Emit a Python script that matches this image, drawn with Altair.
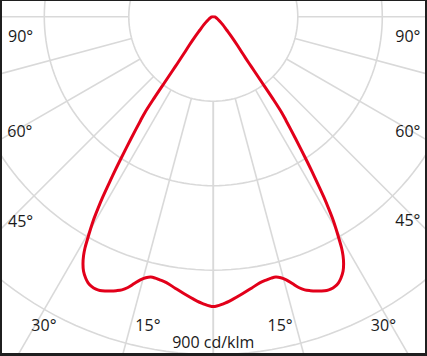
import altair as alt
import numpy as np
import pandas as pd

# Luminous intensity (cd/klm) vs. gamma angle (deg), symmetric C0/C180 plane
gamma_deg = [0, 2, 4, 6, 8, 10, 11.5, 12.5, 13.5, 14.5, 15.5, 16.5, 17.5, 18.5,
             19.5, 20.5, 21.5, 22.5, 23.3, 24.3, 25.2, 26, 27, 27.8, 28.5, 29,
             29.5, 30, 30.5, 31, 31.5, 32, 32.5, 33, 33.5, 34, 34.5, 35, 35.5,
             36, 36.5, 37, 37.5, 38.5, 40, 42.5, 45, 50, 55, 62, 70, 80, 90]
intensity = [772, 765, 754, 742, 730, 719, 715, 713, 713, 718, 727, 741, 756,
             767, 774, 780, 785, 789, 790, 788, 783, 775, 761, 744, 724, 705,
             680, 655, 629, 597, 563, 525, 490, 455, 422, 392, 364, 338, 314,
             268, 218, 182, 157, 127, 101, 71, 51, 32, 21, 13, 8, 4, 0]

ring_values = [225, 450, 675, 900]
spoke_angles = [0, 15, 30, 45, 60, 75, 90]
spoke_outer = 1400

label_texts = ["90°", "90°", "60°", "60°", "45°", "45°", "30°", "30°", "15°", "15°", "900 cd/klm"]
label_x = [-513, 518, -515, 518, -513, 518, -451, 453, -174, 178, 0]
label_y = [-67, -67, -320, -320, -560, -556, -837, -837, -837, -837, -882]

# ---- build tables ----
rows = []
o = 0
for g, i in zip(reversed(gamma_deg), reversed(intensity)):
    rows.append({"g": g, "I": i, "side": -1, "o": o}); o += 1
for g, i in zip(gamma_deg[1:], intensity[1:]):
    rows.append({"g": g, "I": i, "side": 1, "o": o}); o += 1
curve = pd.DataFrame(rows)

ring_rows = []
phis = np.arange(0, 361, 2)
for r in ring_values:
    for k, p in enumerate(phis):
        ring_rows.append({"ring": r, "k": k,
                          "x": r * np.sin(np.radians(p)),
                          "y": r * np.cos(np.radians(p))})
rings = pd.DataFrame(ring_rows)

spoke_rows = []
for a in spoke_angles:
    for s in (-1, 1):
        for k, r in enumerate((ring_values[0], spoke_outer)):
            spoke_rows.append({"id": f"{a}_{s}", "k": k,
                               "x": s * r * np.sin(np.radians(a)),
                               "y": -r * np.cos(np.radians(a))})
spokes = pd.DataFrame(spoke_rows)

labels = pd.DataFrame({"t": label_texts, "x": label_x, "y": label_y})

xs = alt.Scale(domain=[-562.6, 563.7], nice=False, zero=False)
ys = alt.Scale(domain=[-895.5, 41.8], nice=False, zero=False)
GRID = "#d9d9d9"

ring_layer = alt.Chart(rings).mark_line(color=GRID, strokeWidth=1.6, clip=True).encode(
    x=alt.X("x:Q", scale=xs, axis=None),
    y=alt.Y("y:Q", scale=ys, axis=None),
    detail="ring:N", order="k:Q")

spoke_layer = alt.Chart(spokes).mark_line(color=GRID, strokeWidth=1.6, clip=True).encode(
    x=alt.X("x:Q", scale=xs, axis=None),
    y=alt.Y("y:Q", scale=ys, axis=None),
    detail="id:N", order="k:Q")

curve_layer = alt.Chart(curve).transform_calculate(
    x="datum.side * datum.I * sin(datum.g * PI / 180)",
    y="-datum.I * cos(datum.g * PI / 180)",
).mark_line(color="#e2001a", strokeWidth=3, interpolate="catmull-rom",
            strokeJoin="round", clip=True).encode(
    x=alt.X("x:Q", scale=xs, axis=None),
    y=alt.Y("y:Q", scale=ys, axis=None),
    order="o:Q")

label_layer = alt.Chart(labels).mark_text(
    font="Open Sans", fontSize=16, color="#1a1a1a", align="center",
    baseline="alphabetic").encode(
    x=alt.X("x:Q", scale=xs, axis=None),
    y=alt.Y("y:Q", scale=ys, axis=None),
    text="t:N")

chart = alt.layer(ring_layer, spoke_layer, curve_layer, label_layer).properties(
    width=423, height=352,
    padding={"left": 2, "top": 1, "right": 2, "bottom": 3},
    autosize="none", background="#1f1f1f",
).configure_view(fill="white", stroke=None)

chart.save("out.html", embed_options={"renderer": "svg", "actions": False})
